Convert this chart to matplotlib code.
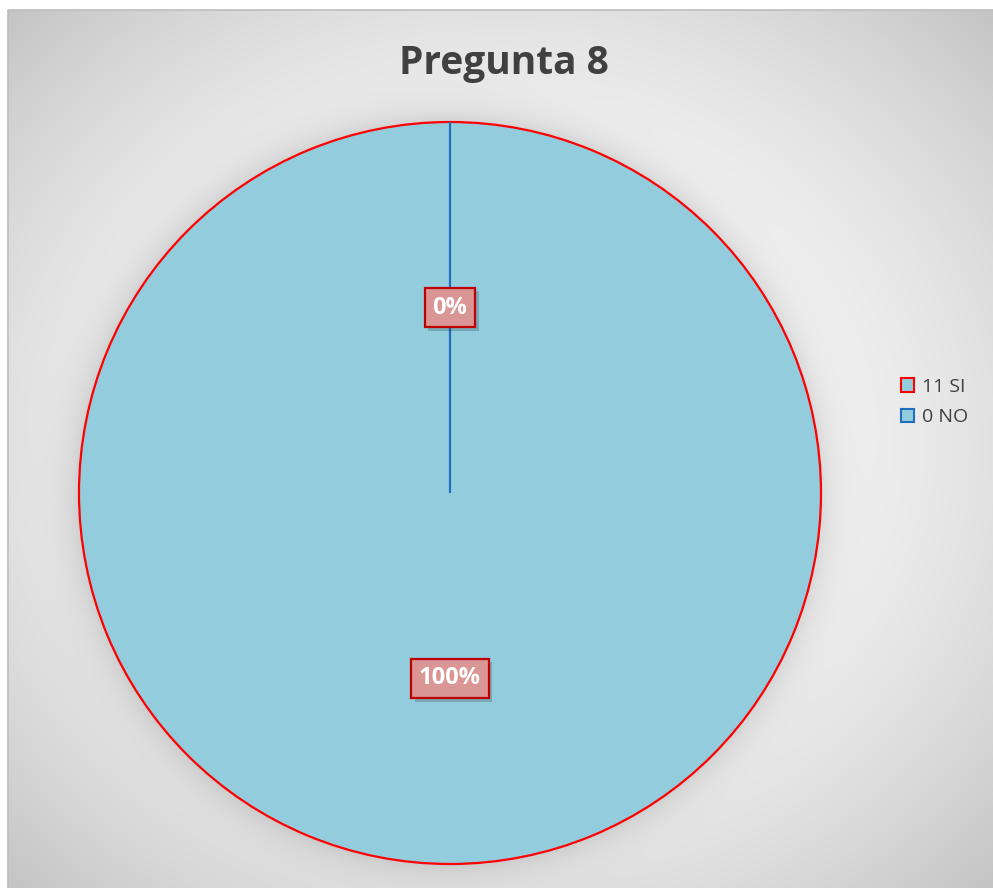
import numpy as np
import matplotlib
matplotlib.use('Agg')
import matplotlib.pyplot as plt
from matplotlib.patches import Patch
from matplotlib.lines import Line2D
import matplotlib.patheffects as pe

plt.rcParams['font.family'] = ['Open Sans', 'DejaVu Sans']

title = 'Pregunta 8'
labels = ['11 SI', '0 NO']
values = [11, 0]
fill_colors = ['#93CDDD', '#93CDDD']
edge_colors = ['#FF0000', '#1F6EC0']

W, H = 993, 888
fig = plt.figure(figsize=(W / 100, H / 100), dpi=100)
fig.patch.set_facecolor('white')

# background with radial gradient and soft glow around the pie
x0, y0 = 8, 10
cols, rows = W - x0, H - y0
yy, xx = np.mgrid[0:rows, 0:cols]
px = xx + x0 + 0.5
py = yy + y0 + 0.5
cx, cy = 500, 449
nx = (px - cx) / (cx - x0)
ny = (py - cy) / (cy - y0)
r = np.sqrt((nx ** 2 + ny ** 2) / 2)
val = 255 - 59 * np.clip(r, 0, 1.2) ** 2
pcx, pcy, R = 450, 493, 371
d = np.hypot(px - pcx, py - pcy)
val = val - 26 * np.exp(-np.abs(d - R) / 16)
img = np.dstack([val, val, val]) / 255.0
bg = fig.add_axes([x0 / W, 0, cols / W, rows / H])
bg.imshow(np.clip(img, 0, 1), aspect='auto', extent=[0, 1, 0, 1], origin='upper')
bg.set_xlim(0, 1)
bg.set_ylim(0, 1)
bg.set_axis_off()
bg.add_line(Line2D([0, 0, 1], [0, 1, 1], transform=bg.transAxes,
                   color='#bdbdbd', lw=1.2, clip_on=False))

# pie
ax = fig.add_axes([79 / W, (H - 864) / H, 742 / W, 742 / H])
wedges, texts, autotexts = ax.pie(
    values, colors=fill_colors, startangle=90, counterclock=False,
    autopct='%1.0f%%', pctdistance=0.5,
    wedgeprops=dict(linewidth=1.6))
for w, ec in zip(wedges, edge_colors):
    w.set_edgecolor(ec)
for t in autotexts:
    t.set_color('white')
    t.set_fontweight('bold')
    t.set_fontsize(17)
    t.set_bbox(dict(boxstyle='square,pad=0.33', facecolor='#D99694',
                    edgecolor='#C00000', linewidth=1.6))
    t.get_bbox_patch().set_path_effects([
        pe.SimplePatchShadow(offset=(2.5, -2.5), shadow_rgbFace='black', alpha=0.18),
        pe.Normal()])
ax.set_xlim(-1, 1)
ax.set_ylim(-1, 1)
ax.set_aspect('equal')
ax.set_axis_off()

# title
fig.text(504 / W, 1 - 74 / H, title, ha='center', va='baseline',
         fontsize=28, fontweight='bold', color='#404040')

# legend
handles = [Patch(facecolor=fc, edgecolor=ec, linewidth=1.5)
           for fc, ec in zip(fill_colors, edge_colors)]
fig.legend(handles, labels, loc='center left',
           bbox_to_anchor=(901 / W, 1 - 402 / H), frameon=False,
           fontsize=14, handlelength=0.68, handleheight=0.68,
           handletextpad=0.4, labelspacing=0.62, borderpad=0,
           borderaxespad=0, labelcolor='#404040')

fig.savefig('out.png', dpi=100, facecolor='white')
